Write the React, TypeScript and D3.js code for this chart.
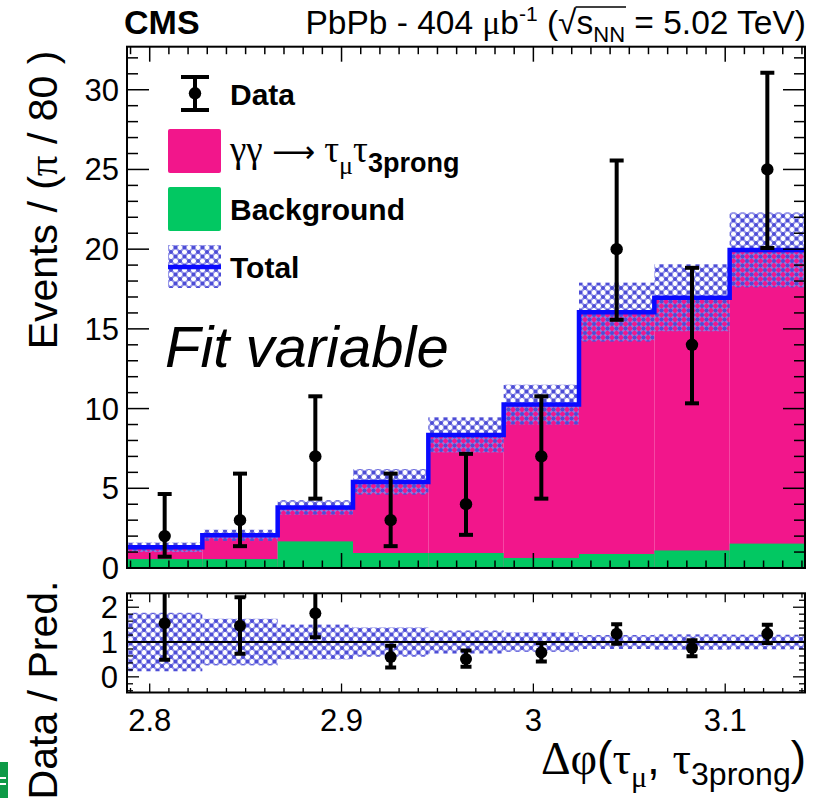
import React, { useLayoutEffect, useRef, useState } from 'react';
import * as d3 from 'd3';

// binning: 9 bins of pi/80 ending at pi
const BIN_W = Math.PI / 80;
const N_BINS = 9;
const X_MIN = Math.PI - N_BINS * BIN_W;
const X_MAX = Math.PI;

// values
const dataCounts = [2, 3, 7, 3, 4, 7, 20, 14, 25];
const dataErrLow = [0.71, 1.37, 4.35, 1.37, 2.08, 4.35, 15.57, 10.33, 20.07];
const dataErrHigh = [4.64, 5.92, 10.77, 5.92, 7.16, 10.77, 25.56, 18.83, 31.06];
const background = [0.56, 0.56, 1.67, 0.94, 0.94, 0.63, 0.88, 1.1, 1.53];
const total = [1.3, 2.05, 3.8, 5.4, 8.35, 10.25, 16.05, 16.95, 19.95];
const totalUnc = [0.3, 0.35, 0.45, 0.8, 1.1, 1.25, 1.85, 2.1, 2.35];

const ratio = [1.54, 1.47, 1.83, 0.57, 0.51, 0.7, 1.24, 0.83, 1.24];
const ratioLow = [0.49, 0.66, 1.14, 0.27, 0.29, 0.44, 0.95, 0.59, 0.97];
const ratioHigh = [2.63, 2.29, 2.54, 0.89, 0.76, 0.97, 1.51, 1.05, 1.5];
const ratioUnc = [0.84, 0.67, 0.5, 0.42, 0.33, 0.28, 0.2, 0.22, 0.21];

const xTicks = [2.8, 2.9, 3.0, 3.1];
const yTicks = [0, 5, 10, 15, 20, 25, 30];
const ratioTicks = [0, 1, 2];

const PINK = '#f2168b';
const GREEN = '#02c862';
const BLUE = '#0a0aff';
const SANS = '"Liberation Sans", Arial, Helvetica, sans-serif';
const SERIF = '"Liberation Serif", "Times New Roman", serif';

const W = 813;
const H = 798;
const left = 127;
const right = 805;
const mainTop = 46.7;
const mainBottom = 568;
const ratTop = 593.3;
const ratBottom = 692.5;

export default function App() {
  const sqrtRef = useRef<SVGTSpanElement>(null);
  const nnRef = useRef<SVGTSpanElement>(null);
  const [bar, setBar] = useState<[number, number] | null>(null);

  useLayoutEffect(() => {
    if (!sqrtRef.current || !nnRef.current) return;
    const s = sqrtRef.current;
    const n = nnRef.current;
    const last = s.getNumberOfChars() - 1;
    const x0 = s.getStartPositionOfChar(last).x + s.getSubStringLength(last, 1) - 1;
    const nn = n.getNumberOfChars() - 1;
    const x1 = n.getStartPositionOfChar(nn).x + n.getSubStringLength(nn, 1) + 1;
    setBar([x0, x1]);
  }, []);

  const x = d3.scaleLinear().domain([X_MIN, X_MAX]).range([left, right]);
  const y = d3.scaleLinear().domain([0, 32.7]).range([mainBottom, mainTop]);
  const yr = d3.scaleLinear().domain([-0.45, 2.4]).range([ratBottom, ratTop]);

  const edges = d3.range(N_BINS + 1).map(i => X_MIN + i * BIN_W);
  const bins = d3.range(N_BINS).map(i => ({
    x0: edges[i],
    x1: edges[i + 1],
    xc: (edges[i] + edges[i + 1]) / 2,
    i,
  }));

  const stepLine = d3
    .line<number>()
    .x((_, i) => x(edges[i]))
    .y(d => y(d))
    .curve(d3.curveStepAfter);
  const totalPath = stepLine([...total, total[total.length - 1]]) || '';

  const xMinor = d3.range(279, 315).map(v => v / 100);
  const yMinor = d3.range(0, 33);
  const rMinor = d3.range(-2, 12).map(v => v / 5);

  return (
    <svg
      width={W}
      height={H}
      style={{ position: 'absolute', left: 0, top: 0, background: '#fff' }}
      fontFamily={SANS}
    >
      <defs>
        <pattern id="hatch" width={9} height={9} patternUnits="userSpaceOnUse">
          <path d="M0,0L9,9M9,0L0,9" stroke="#8686e6" strokeWidth={2.2} opacity={0.85} />
          <circle cx={0} cy={0} r={2} fill="#4d4dd6" />
          <circle cx={9} cy={0} r={2} fill="#4d4dd6" />
          <circle cx={0} cy={9} r={2} fill="#4d4dd6" />
          <circle cx={9} cy={9} r={2} fill="#4d4dd6" />
          <circle cx={4.5} cy={4.5} r={2} fill="#4d4dd6" />
        </pattern>
        <clipPath id="clipMain">
          <rect x={left} y={mainTop} width={right - left} height={mainBottom - mainTop} />
        </clipPath>
        <clipPath id="clipRat">
          <rect x={left} y={ratTop} width={right - left} height={ratBottom - ratTop} />
        </clipPath>
      </defs>

      {/* header */}
      <text x={124} y={34} fontSize={34} fontWeight="bold">CMS</text>
      <text x={806} y={34} fontSize={33.5} textAnchor="end">
        PbPb - 404 <tspan fontFamily={SERIF}>μ</tspan>b
        <tspan fontSize={21} dy={-13}>-1</tspan>
        <tspan dy={13} ref={sqrtRef}> (√</tspan>
        <tspan>s</tspan>
        <tspan fontSize={22} dy={8} ref={nnRef}>NN</tspan>
        <tspan dy={-8}> = 5.02 TeV)</tspan>
      </text>
      {bar && <line x1={bar[0]} x2={bar[1]} y1={7} y2={7} stroke="#000" strokeWidth={1.6} />}

      {/* main panel */}
      <g clipPath="url(#clipMain)">
        {bins.map(b => (
          <rect key={'p' + b.i} x={x(b.x0)} width={x(b.x1) - x(b.x0)}
            y={y(total[b.i])} height={y(0) - y(total[b.i])} fill={PINK} />
        ))}
        {bins.map(b => (
          <rect key={'g' + b.i} x={x(b.x0)} width={x(b.x1) - x(b.x0)}
            y={y(background[b.i])} height={y(0) - y(background[b.i])} fill={GREEN} />
        ))}
        {bins.map(b => (
          <rect key={'u' + b.i} x={x(b.x0)} width={x(b.x1) - x(b.x0)}
            y={y(total[b.i] + totalUnc[b.i])}
            height={y(total[b.i] - totalUnc[b.i]) - y(total[b.i] + totalUnc[b.i])}
            fill="url(#hatch)" />
        ))}
        <path d={totalPath} fill="none" stroke={BLUE} strokeWidth={4.5} />
        {bins.map(b => (
          <g key={'d' + b.i}>
            <line x1={x(b.xc)} x2={x(b.xc)} y1={y(dataErrLow[b.i])} y2={y(dataErrHigh[b.i])}
              stroke="#000" strokeWidth={4} />
            <line x1={x(b.xc) - 7} x2={x(b.xc) + 7} y1={y(dataErrLow[b.i])} y2={y(dataErrLow[b.i])}
              stroke="#000" strokeWidth={4} />
            <line x1={x(b.xc) - 7} x2={x(b.xc) + 7} y1={y(dataErrHigh[b.i])} y2={y(dataErrHigh[b.i])}
              stroke="#000" strokeWidth={4} />
            <circle cx={x(b.xc)} cy={y(dataCounts[b.i])} r={6.2} fill="#000" />
          </g>
        ))}
      </g>

      {/* main axes ticks */}
      <g stroke="#000" strokeWidth={1.5}>
        {yMinor.map(v => {
          const len = v % 5 === 0 ? 22 : 11;
          return (
            <g key={'ym' + v}>
              <line x1={left} x2={left + len} y1={y(v)} y2={y(v)} />
              <line x1={right} x2={right - len} y1={y(v)} y2={y(v)} />
            </g>
          );
        })}
        {xMinor.map(v => {
          const major = Math.abs(v * 10 - Math.round(v * 10)) < 1e-6;
          const len = major ? 15 : 7.5;
          return (
            <g key={'xm' + v}>
              <line x1={x(v)} x2={x(v)} y1={mainBottom} y2={mainBottom - len} />
              <line x1={x(v)} x2={x(v)} y1={mainTop} y2={mainTop + len} />
            </g>
          );
        })}
      </g>
      <rect x={left} y={mainTop} width={right - left} height={mainBottom - mainTop}
        fill="none" stroke="#000" strokeWidth={2} />
      {yTicks.map(v => (
        <text key={'yl' + v} x={119} y={y(v) + 11} fontSize={31} textAnchor="end">{v}</text>
      ))}

      {/* legend */}
      <g>
        <line x1={195} x2={195} y1={75} y2={111.7} stroke="#000" strokeWidth={4} />
        <line x1={181} x2={209} y1={77} y2={77} stroke="#000" strokeWidth={4} />
        <line x1={181} x2={209} y1={110} y2={110} stroke="#000" strokeWidth={4} />
        <circle cx={195} cy={93.3} r={6.2} fill="#000" />
        <text x={230} y={105} fontSize={30} fontWeight="bold">Data</text>

        <rect x={168} y={129} width={53} height={44} fill={PINK} rx={2} />
        <text x={230} y={162} fontSize={37}>
          <tspan fontFamily={SERIF}>γγ </tspan>
          <tspan fontFamily='"DejaVu Sans", sans-serif' fontSize={30}>⟶</tspan>
          <tspan fontFamily={SERIF}> τ</tspan>
          <tspan fontFamily={SERIF} fontSize={26} dy={12}>μ</tspan>
          <tspan fontFamily={SERIF} dy={-12}>τ</tspan>
          <tspan fontSize={27} fontWeight="bold" dy={10}>3prong</tspan>
        </text>

        <rect x={168} y={187} width={53} height={44} fill={GREEN} rx={2} />
        <text x={230} y={220} fontSize={30} fontWeight="bold">Background</text>

        <rect x={168} y={245} width={53} height={43} fill="url(#hatch)" />
        <line x1={168} x2={221} y1={267} y2={267} stroke={BLUE} strokeWidth={4.5} />
        <text x={230} y={278} fontSize={30} fontWeight="bold">Total</text>
      </g>

      <text x={165} y={367} fontSize={58} fontStyle="italic">Fit variable</text>

      {/* y title */}
      <text transform="translate(57,200) rotate(-90)" fontSize={41} textAnchor="middle">
        Events / (<tspan fontFamily={SERIF}>π</tspan> / 80 )
      </text>

      {/* ratio panel */}
      <g clipPath="url(#clipRat)">
        {bins.map(b => (
          <rect key={'ru' + b.i} x={x(b.x0)} width={x(b.x1) - x(b.x0)}
            y={yr(1 + ratioUnc[b.i])}
            height={yr(1 - ratioUnc[b.i]) - yr(1 + ratioUnc[b.i])}
            fill="url(#hatch)" />
        ))}
        <line x1={left} x2={right} y1={yr(1)} y2={yr(1)} stroke="#000" strokeWidth={2} />
        {bins.map(b => (
          <g key={'rd' + b.i}>
            <line x1={x(b.xc)} x2={x(b.xc)} y1={yr(ratioLow[b.i])} y2={yr(ratioHigh[b.i])}
              stroke="#000" strokeWidth={4} />
            <line x1={x(b.xc) - 5.5} x2={x(b.xc) + 5.5} y1={yr(ratioLow[b.i])} y2={yr(ratioLow[b.i])}
              stroke="#000" strokeWidth={4} />
            <line x1={x(b.xc) - 5.5} x2={x(b.xc) + 5.5} y1={yr(ratioHigh[b.i])} y2={yr(ratioHigh[b.i])}
              stroke="#000" strokeWidth={4} />
            <circle cx={x(b.xc)} cy={yr(ratio[b.i])} r={6} fill="#000" />
          </g>
        ))}
      </g>
      <g stroke="#000" strokeWidth={1.3}>
        {rMinor.map(v => {
          const len = Math.abs(v - Math.round(v)) < 1e-6 ? 12 : 6;
          return (
            <g key={'rm' + v}>
              <line x1={left} x2={left + len} y1={yr(v)} y2={yr(v)} />
              <line x1={right} x2={right - len} y1={yr(v)} y2={yr(v)} />
            </g>
          );
        })}
        {xMinor.map(v => {
          const major = Math.abs(v * 10 - Math.round(v * 10)) < 1e-6;
          const len = major ? 9 : 4.5;
          return (
            <g key={'rxm' + v}>
              <line x1={x(v)} x2={x(v)} y1={ratBottom} y2={ratBottom - len} />
              <line x1={x(v)} x2={x(v)} y1={ratTop} y2={ratTop + len} />
            </g>
          );
        })}
      </g>
      <rect x={left} y={ratTop} width={right - left} height={ratBottom - ratTop}
        fill="none" stroke="#000" strokeWidth={2} />
      {ratioTicks.map(v => (
        <text key={'rl' + v} x={118} y={yr(v) + 11} fontSize={31} textAnchor="end">{v}</text>
      ))}
      {xTicks.map(v => (
        <text key={'xl' + v} x={x(v)} y={731} fontSize={31} textAnchor="middle">{d3.format('~g')(v)}</text>
      ))}

      <text transform="translate(57,690) rotate(-90)" fontSize={41} textAnchor="middle">
        Data / Pred.
      </text>

      {/* x title */}
      <text x={806} y={774} fontSize={46} textAnchor="end">
        <tspan fontFamily={SERIF}>Δφ</tspan>(<tspan fontFamily={SERIF}>τ</tspan>
        <tspan fontFamily={SERIF} fontSize={30} dy={13}>μ</tspan>
        <tspan dy={-13}>, </tspan>
        <tspan fontFamily={SERIF}>τ</tspan>
        <tspan fontSize={32} dy={11}>3prong</tspan>
        <tspan dy={-11}>)</tspan>
      </text>

      {/* cropped logo at bottom-left edge */}
      <rect x={0} y={762} width={8} height={36} fill="#0e9a47" />
      <path d="M0,778 L6,778 M0,784 L6,784" stroke="#fff" strokeWidth={2} />
    </svg>
  );
}
